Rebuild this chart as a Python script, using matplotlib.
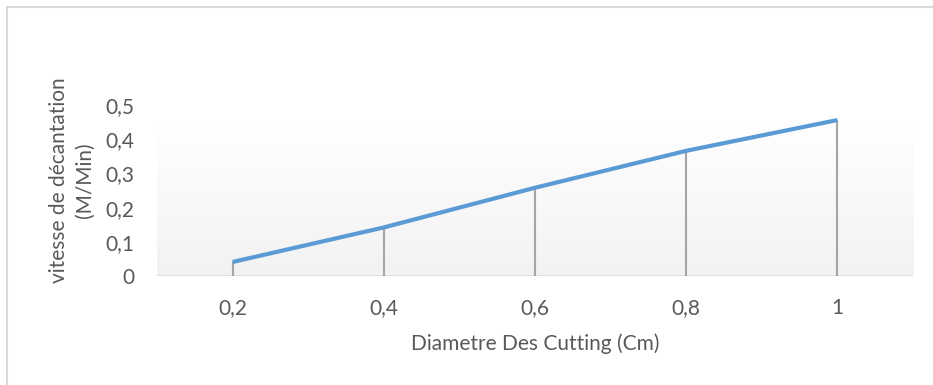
import numpy as np
import matplotlib.pyplot as plt
from matplotlib.patches import Rectangle
from matplotlib.colors import LinearSegmentedColormap

# diametre des cuttings (cm) et vitesse de decantation (m/min)
diametres = [0.2, 0.4, 0.6, 0.8, 1.0]
diam_labels = ["0,2", "0,4", "0,6", "0,8", "1"]
vitesses = [0.041, 0.142, 0.258, 0.366, 0.456]
y_ticks = [0, 0.1, 0.2, 0.3, 0.4, 0.5]
y_labels = ["0", "0,1", "0,2", "0,3", "0,4", "0,5"]

plt.rcParams['font.family'] = ['Lato', 'DejaVu Sans']
txt = '#595959'

fig = plt.figure(figsize=(9.33, 3.85), dpi=100)
fig.patches.append(Rectangle((7 / 933, -0.1), 2, 1.1 - 7 / 385, transform=fig.transFigure,
                             fill=False, edgecolor='#D9D9D9', linewidth=1.5))

ax = fig.add_axes([157 / 933, 109 / 385, 756 / 933, 171 / 385])
x = np.arange(len(diametres))
ax.set_xlim(-0.5, len(diametres) - 0.5)
ax.set_ylim(0, 0.5)

# fond en degrade (blanc -> gris clair) jusqu'au max des donnees
grad = np.linspace(0, 1, 256).reshape(-1, 1)
cmap = LinearSegmentedColormap.from_list('fond', ['#F2F2F2', '#FFFFFF'])
ax.imshow(grad, cmap=cmap, extent=[-0.5, len(diametres) - 0.5, 0, max(vitesses)],
          origin='lower', aspect='auto', zorder=0)

ax.vlines(x, 0, vitesses, color='#A5A5A5', linewidth=1.5, zorder=2)
ax.plot(x, vitesses, color='#5B9BD5', linewidth=3, solid_capstyle='butt', zorder=3)
ax.axhline(0, color='#D9D9D9', linewidth=1.8, zorder=1)

for s in ax.spines.values():
    s.set_visible(False)
ax.set_xticks(x, diam_labels)
ax.set_yticks(y_ticks, y_labels)
ax.tick_params(length=0, labelsize=15, colors=txt)
ax.tick_params(axis='x', pad=16)
ax.tick_params(axis='y', pad=16)

ax.set_xlabel("Diametre Des Cutting (Cm)", fontsize=15, color=txt, labelpad=11)
ax.set_ylabel("vitesse de décantation\n(M/Min)", fontsize=15, color=txt, linespacing=1.4)
ax.yaxis.set_label_coords(-0.082, 0.56)

fig.savefig('out.png', dpi=100)
